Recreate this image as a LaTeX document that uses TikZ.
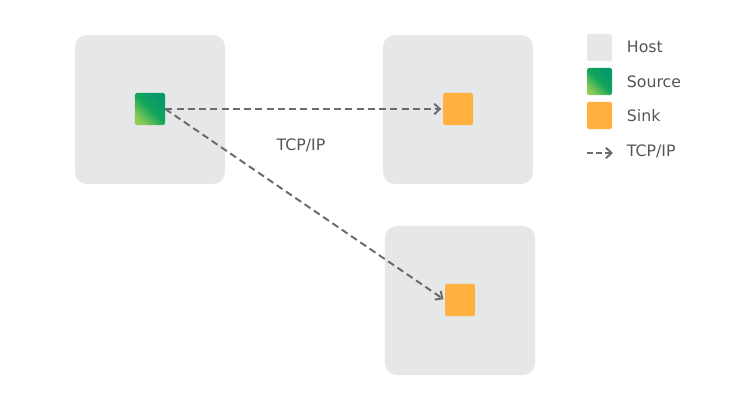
\documentclass[tikz,border=0pt]{standalone}
\usepackage{fontspec}
\setmainfont{DejaVu Sans}
\usetikzlibrary{arrows.meta,positioning}
\definecolor{hostgray}{HTML}{E6E7E9}
\definecolor{sinkorange}{HTML}{FFB03F}
\definecolor{srcdark}{HTML}{05986B}
\definecolor{srcmid}{HTML}{13A55C}
\definecolor{srclight}{HTML}{8CCB55}
\definecolor{linkgray}{HTML}{6B6B6E}
\definecolor{labelgray}{HTML}{555558}

\begin{document}
\begin{tikzpicture}[
    x=0.025cm, y=-0.025cm,
    host/.style={rectangle, fill=hostgray, rounded corners=0.3cm,
                 minimum width=3.75cm, minimum height=3.725cm, inner sep=0pt},
    srcfill/.style={top color=srcdark, bottom color=srclight, middle color=srcmid,
                    shading angle=-45},
    source/.style={rectangle, rounded corners=1.5pt, minimum width=0.75cm, minimum height=0.8cm,
                   inner sep=0pt, srcfill},
    sink/.style={rectangle, fill=sinkorange, rounded corners=1.5pt,
                 minimum width=0.75cm, minimum height=0.8cm, inner sep=0pt},
    legendbox/.style={rectangle, rounded corners=1.5pt, minimum width=0.625cm,
                      minimum height=0.675cm, inner sep=0pt},
    label/.style={text=labelgray, font=\fontsize{11.2}{13}\selectfont},
    link/.style={draw=linkgray, line width=1.4pt, dash pattern=on 5pt off 3pt,
                 -{Straight Barb[length=4pt,width=7.5pt]}, shorten >=1pt}
]
\useasboundingbox (0,0) rectangle (730,400);

% hosts
\node[host] (host1) at (150,109.5) {};
\node[host] (host2) at (458,109.5) {};
\node[host] (host3) at (460,300.5) {};

% source and sinks
\node[source] (src) at (150,109) {};
\node[sink] (sink1) at (458,109) {};
\node[sink] (sink2) at (460,300) {};

\draw[link] (src.east) -- (sink1.west);
\draw[link] (src.east) -- (sink2.west);

\node[label] (tcplabel) at (301,145) {TCP/IP};

% legend
\node[legendbox, fill=hostgray] (lhost) at (599.5,47.5) {};
\node[legendbox, srcfill] (lsrc) at (599.5,81.5) {};
\node[legendbox, fill=sinkorange] (lsink) at (599.5,115.5) {};
\coordinate (lt1) at (587,153);
\coordinate (lt2) at (613,153);
\draw[link, shorten >=0pt, dash pattern=on 4pt off 2.5pt] (lt1) -- (lt2);

\node[label, anchor=west] (lhosttxt) at (622,47) {Host};
\node[label, anchor=west] (lsrctxt) at (622,82) {Source};
\node[label, anchor=west] (lsinktxt) at (622,116) {Sink};
\node[label, anchor=west] (ltcptxt) at (622,151) {TCP/IP};
\end{tikzpicture}
\end{document}
